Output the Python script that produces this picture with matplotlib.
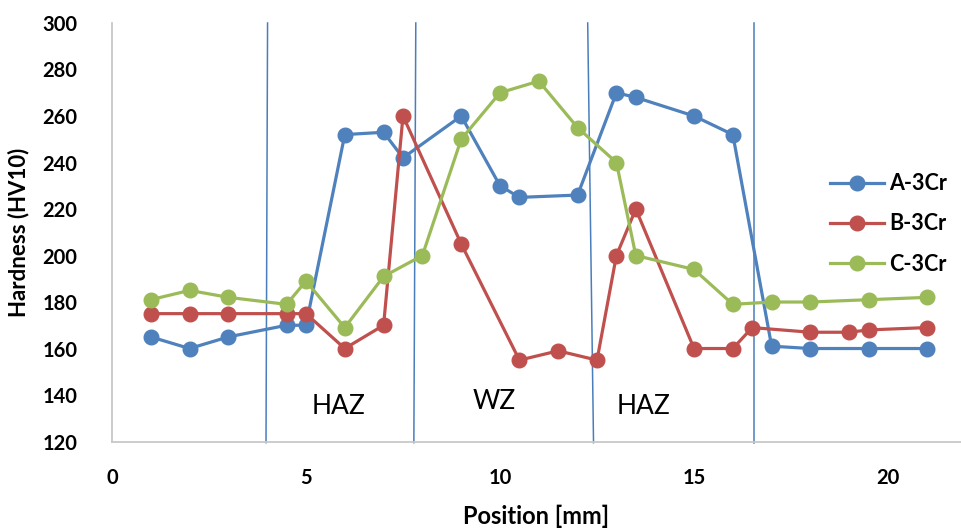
import matplotlib
matplotlib.use("Agg")
import matplotlib.pyplot as plt

plt.rcParams['font.family'] = ['Lato', 'DejaVu Sans']

# hardness profiles
x_a = [1, 2, 3, 4.5, 5, 6, 7, 7.5, 9, 10, 10.5, 12, 13, 13.5, 15, 16, 17, 18, 19.5, 21]
hv_a = [165, 160, 165, 170, 170, 252, 253, 242, 260, 230, 225, 226, 270, 268, 260, 252, 161, 160, 160, 160]

x_b = [1, 2, 3, 4.5, 5, 6, 7, 7.5, 9, 10.5, 11.5, 12.5, 13, 13.5, 15, 16, 16.5, 18, 19, 19.5, 21]
hv_b = [175, 175, 175, 175, 175, 160, 170, 260, 205, 155, 159, 155, 200, 220, 160, 160, 169, 167, 167, 168, 169]

x_c = [1, 2, 3, 4.5, 5, 6, 7, 8, 9, 10, 11, 12, 13, 13.5, 15, 16, 17, 18, 19.5, 21]
hv_c = [181, 185, 182, 179, 189, 169, 191, 200, 250, 270, 275, 255, 240, 200, 194, 179, 180, 180, 181, 182]

# zone boundary lines (x at top, x at bottom) and zone labels
zone_top = [4.01, 7.83, 12.26, 16.54]
zone_bottom = [3.97, 7.78, 12.41, 16.54]
zone_names = ["HAZ", "WZ", "HAZ"]
zone_name_x = [5.85, 9.85, 13.7]
zone_name_y = [135, 137, 135]

fig = plt.figure(figsize=(9.61, 5.31), dpi=100)
ax = fig.add_axes([0.1165, 0.1685, 0.8835, 0.7882])

for xt, xb in zip(zone_top, zone_bottom):
    ax.plot([xb, xt], [119.5, 300], color="#4A7EBB", lw=1.1, clip_on=False, zorder=1)

for xs, ys, col, name in [(x_a, hv_a, "#4F81BD", "A-3Cr"),
                          (x_b, hv_b, "#C0504D", "B-3Cr"),
                          (x_c, hv_c, "#9BBB59", "C-3Cr")]:
    ax.plot(xs, ys, color=col, lw=2.3, marker="o", ms=10.5, label=name, zorder=3)

for n, tx, ty in zip(zone_names, zone_name_x, zone_name_y):
    ax.text(tx, ty, n, fontsize=19, ha="center", va="center")

ax.set_xlim(0, 21.88)
ax.set_ylim(120, 300)
ax.set_xticks([0, 5, 10, 15, 20])
ax.set_yticks(range(120, 301, 20))
ax.tick_params(length=0, labelsize=14.5, pad=25)
ax.tick_params(axis="x", pad=19)
for lab in ax.get_xticklabels() + ax.get_yticklabels():
    lab.set_fontweight("bold")

for s in ["top", "right"]:
    ax.spines[s].set_visible(False)
for s in ["left", "bottom"]:
    ax.spines[s].set_color("#C8C8C8")
    ax.spines[s].set_linewidth(1.3)

ax.set_xlabel("Position [mm]", fontsize=17, fontweight="bold", labelpad=12)
ax.set_ylabel("Hardness (HV10)", fontsize=16, fontweight="bold", labelpad=9)

ax.legend(loc="center left", bbox_to_anchor=(830 / 961, 1 - 224 / 531),
          bbox_transform=fig.transFigure, frameon=False,
          prop={"weight": "bold", "size": 15.5}, handlelength=2.5,
          handletextpad=0.25, labelspacing=0.9, borderpad=0, borderaxespad=0)

fig.savefig("out.png", dpi=100)
